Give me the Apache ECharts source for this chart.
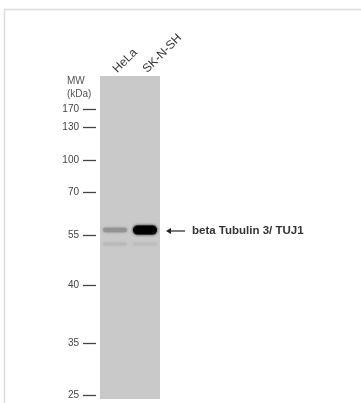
<!DOCTYPE html>
<html>
<head>
<meta charset="utf-8">
<script src="https://cdn.jsdelivr.net/npm/echarts@6/dist/echarts.min.js"></script>
<style>html,body{margin:0;padding:0;background:#fff}#c{width:361px;height:403px}</style>
</head>
<body>
<div id="c"></div>
<script>
// Lanes (samples)
var lanes = ['HeLa', 'SK-N-SH'];
// Molecular-weight marker labels (kDa) and their migration distance (arbitrary units from the top of the gel)
var mwLabels = ['170', '130', '100', '70', '55', '40', '35', '25'];
var mwPositions = [33, 51, 84, 116, 159, 209, 267, 319];
// Detected bands: lane index, migration distance, relative intensity
var bandLane = [0, 1, 0, 1];
var bandPosition = [154, 154, 168, 168];
var bandIntensity = [0.27, 1.0, 0.08, 0.06];
var targetName = 'beta Tubulin 3/ TUJ1';

var bandData = bandLane.map(function (l, i) { return [l, bandPosition[i], bandIntensity[i]]; });

var chart = echarts.init(document.getElementById('c'), null, { renderer: 'canvas' });
var FONT = 'Liberation Sans, Arial, sans-serif';

chart.setOption({
  animation: false,
  backgroundColor: '#fff',
  title: {
    text: 'MW\n(kDa)',
    left: 62, top: 70,
    textStyle: { fontSize: 10, fontWeight: 'normal', color: '#555', fontFamily: FONT, lineHeight: 13 }
  },
  grid: {
    left: 100, top: 76, width: 60, height: 323,
    show: true, backgroundColor: '#c9c9c9', borderWidth: 0
  },
  xAxis: {
    type: 'category', data: lanes, position: 'top',
    axisLine: { show: false }, axisTick: { show: false },
    axisLabel: { rotate: 45, margin: 5, fontSize: 12, color: '#333', fontFamily: FONT }
  },
  yAxis: {
    type: 'value', inverse: true, min: 0, max: 323, offset: 4,
    splitLine: { show: false },
    axisLine: { show: false },
    axisTick: { show: true, length: 13, customValues: mwPositions, lineStyle: { color: '#444', width: 1.3 } },
    axisLabel: {
      customValues: mwPositions, margin: 17, fontSize: 10, color: '#444', fontFamily: FONT,
      formatter: function (v) { var i = mwPositions.indexOf(v); return i >= 0 ? mwLabels[i] : ''; }
    }
  },
  series: [{
    type: 'custom',
    data: bandData,
    renderItem: function (params, api) {
      var p = api.coord([api.value(0), api.value(1)]);
      var w = api.size([1, 0])[0] * 0.8;
      var inten = api.value(2);
      var h = 2.5 + 6.5 * inten;
      var g = Math.round(201 * (1 - inten));
      var col = 'rgb(' + g + ',' + g + ',' + g + ')';
      return {
        type: 'rect',
        shape: { x: p[0] - w / 2, y: p[1] - h / 2, width: w, height: h, r: h / 2 },
        style: { fill: col, shadowBlur: 3, shadowColor: col }
      };
    }
  }]
});

// Annotation arrow pointing to the strongest band
var maxI = 0;
bandIntensity.forEach(function (v, i) { if (v > bandIntensity[maxI]) maxI = i; });
var bp = chart.convertToPixel({ seriesIndex: 0 }, [bandLane[maxI], bandPosition[maxI]]);
var laneHalf = chart.getModel().getComponent('xAxis').axis.getBandWidth() / 2;
var ax = bp[0] + laneHalf + 6;
var ay = bp[1] + 1;
chart.setOption({
  graphic: [
    { type: 'rect', shape: { x: 4.5, y: 9.5, width: 420, height: 420 }, style: { fill: 'none', stroke: '#dcdcdc', lineWidth: 1.5 }, silent: true },
    { type: 'line', shape: { x1: ax + 3, y1: ay, x2: ax + 19, y2: ay }, style: { stroke: '#222', lineWidth: 1.2 } },
    { type: 'polygon', shape: { points: [[ax, ay], [ax + 5, ay - 3], [ax + 5, ay + 3]] }, style: { fill: '#222' } },
    { type: 'text', x: ax + 26, y: ay, style: { text: targetName, fontSize: 11.5, fontWeight: 'bold', fill: '#333', fontFamily: FONT, verticalAlign: 'middle', align: 'left' } }
  ]
});
</script>
</body>
</html>
